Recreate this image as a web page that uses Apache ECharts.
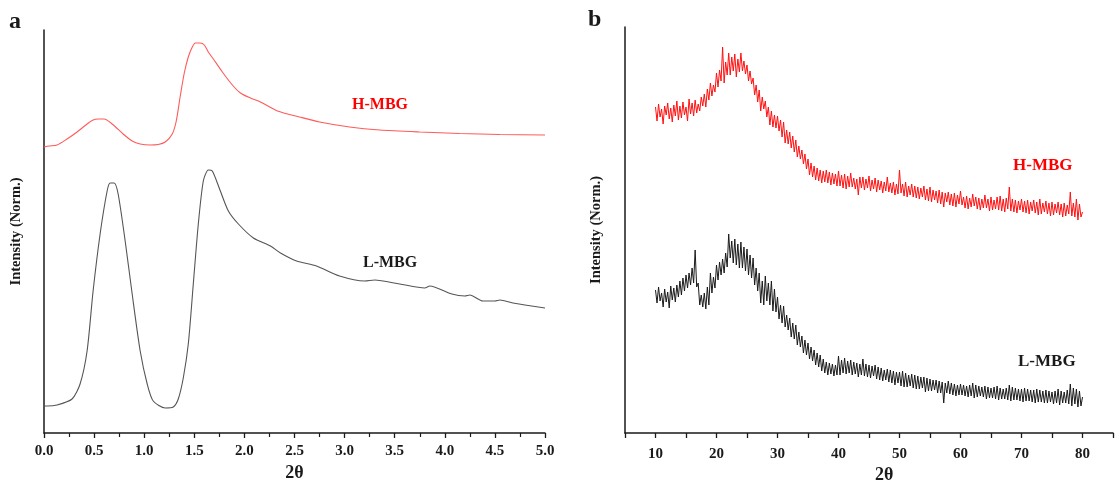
<!DOCTYPE html>
<html><head><meta charset="utf-8">
<script src="https://cdn.jsdelivr.net/npm/echarts@6/dist/echarts.min.js"></script>
<style>html,body{margin:0;padding:0;background:#fff}#c{width:1116px;height:491px}</style>
</head><body><div id="c"></div>
<script>
// Panel a (low angle): 2θ and normalized intensity (arbitrary units)
const aH_x = [0.00,0.05,0.13,0.23,0.33,0.43,0.49,0.54,0.60,0.68,0.79,0.88,0.96,1.06,1.14,1.21,1.28,1.32,1.36,1.40,1.44,1.48,1.51,1.56,1.60,1.64,1.69,1.78,1.88,1.96,2.06,2.16,2.33,2.55,2.75,3.05,3.35,3.75,4.15,4.55,5.00];
const aH_y = [286,287,288,294,301,309,313,314,314,309,299,292,289,288,288.5,291,299,312,337,360,376,386,390,390,388,381,374,361,348,340,335,331,322,316,311,306,303,301,299.5,298.5,298];
const aL_x = [0.00,0.03,0.13,0.28,0.36,0.43,0.49,0.56,0.63,0.66,0.70,0.74,0.81,0.88,0.96,1.03,1.09,1.21,1.29,1.34,1.39,1.44,1.49,1.54,1.59,1.64,1.68,1.76,1.84,1.94,2.09,2.26,2.36,2.52,2.72,2.95,3.20,3.30,3.55,3.80,3.85,4.07,4.20,4.25,4.38,4.50,4.55,4.68,5.00];
const aL_y = [27,27,28,34,49,82,142,199,242,250,250,239,192,139,82,49,32,25,26,34,55,89,149,209,252,263,262,242,222,209,195,187,180,172,167,157,152,153,149,145,147,139,137,138,132,132,133,130,125];
const aTicks = [0,0.5,1,1.5,2,2.5,3,3.5,4,4.5,5];

// Panel b (wide angle): 2θ from 10 to 80 in steps of 0.25
const bX = [];
for (let i = 0; i <= 280; i++) bX.push(10 + i * 0.25);
const bH = [
326,312,329,316,324,309,327,318, 330,314,325,311,328,317,332,313,
327,315,331,318,326,312,334,319, 330,317,333,320,329,322,336,327,
339,326,344,333,350,337,348,341, 360,346,363,352,386,350,371,358,
380,358,376,362,379,356,374,361, 380,362,372,359,368,352,362,349,
355,338,348,331,343,322,336,324, 332,316,326,308,322,306,318,305,
317,302,313,296,311,290,303,289, 301,285,297,281,293,276,287,274,
283,269,279,264,274,258,270,256, 267,253,265,252,263,250,262,251,
263,250,261,248,260,249,259,247, 262,247,258,245,259,244,257,246,
260,246,255,244,254,238,256,245, 256,243,254,245,257,242,253,244,
255,241,253,243,252,240,251,242, 256,241,250,240,251,238,249,239,
263,240,249,237,251,236,247,238, 249,236,247,235,246,234,245,236,
247,233,244,232,246,231,243,233, 242,230,243,229,241,226,240,231,
241,228,239,227,240,226,238,229, 242,228,236,225,237,224,235,226,
239,227,236,224,235,223,234,225, 238,225,234,222,236,223,233,224,
236,223,237,222,234,221,235,224, 246,222,234,221,233,220,232,223,
234,221,232,220,233,219,231,222, 233,220,231,218,234,219,230,221,
232,219,230,217,231,218,229,220, 231,218,229,216,230,217,228,219,
241,217,230,216,234,213,229,216, 221];
const bL = [
143,130,146,132,140,126,144,131, 141,125,147,133,145,131,148,136,
152,138,155,142,158,145,160,148, 165,150,183,146,150,128,138,126,
140,124,146,128,160,140,156,145, 168,153,171,158,174,160,180,166,
199,175,192,170,194,168,189,165, 191,165,186,162,184,158,178,155,
175,148,165,142,160,130,152,128, 157,132,150,128,152,122,144,121,
136,114,128,110,127,106,118,103, 115,96,110,94,108,88,101,86,
97,80,93,78,90,74,86,72, 83,68,80,66,78,62,74,60,
71,58,70,59,69,57,68,58, 77,58,73,60,75,59,72,60,
73,58,71,59,70,56,69,58, 74,57,69,56,68,55,67,57,
68,54,66,53,65,52,63,53, 64,51,63,50,62,48,61,50,
61,47,62,46,60,46,58,47, 59,45,58,44,57,44,56,45,
56,41,55,42,54,42,53,43, 53,40,52,40,51,30,50,40,
52,39,50,38,49,37,48,38, 49,38,48,37,47,36,48,37,
50,35,48,36,47,37,46,36, 47,34,46,35,45,35,46,34,
47,33,45,34,44,34,45,33, 48,32,46,33,45,33,44,32,
44,31,45,32,44,32,43,31, 43,30,44,31,43,31,42,30,
43,30,42,31,41,29,42,30, 44,28,42,30,41,30,43,29,
49,27,45,29,44,26,42,27, 36];
const bTicks = [10,20,30,40,50,60,70,80];

const zip = (xs, ys) => xs.map((x, i) => [x, ys[i]]);
const FONT = '"Liberation Serif","Times New Roman",serif';
const INK = '#1a1a1a';
const axisLine = {lineStyle:{color:INK,width:1.5}};

const chart = echarts.init(document.getElementById('c'), null, {renderer:'canvas'});
chart.setOption({
  animation:false,
  backgroundColor:'#fff',
  grid:[
    {left:44, top:30, width:501, height:403},
    {left:625, top:27, width:500.6, height:406}
  ],
  xAxis:[
    {gridIndex:0, type:'value', min:0, max:5, interval:0.5,
     axisLine:axisLine, splitLine:{show:false},
     axisTick:{show:true, length:5, lineStyle:{color:INK,width:1.3}},
     minorTick:{show:true, splitNumber:2, length:4, lineStyle:{color:INK,width:1.2}},
     axisLabel:{fontFamily:FONT, fontWeight:'bold', fontSize:15, color:INK, margin:11,
       formatter:v => aTicks.includes(+v.toFixed(2)) ? v.toFixed(1) : ''},
     name:'2θ', nameLocation:'middle', nameGap:22,
     nameTextStyle:{fontFamily:FONT, fontWeight:'bold', fontSize:18, color:INK}},
    {gridIndex:1, type:'value', min:5, max:85, interval:5,
     axisLine:axisLine, splitLine:{show:false},
     axisTick:{show:true, length:5, lineStyle:{color:INK,width:1.3}},
     axisLabel:{fontFamily:FONT, fontWeight:'bold', fontSize:15, color:INK, margin:14,
       formatter:v => bTicks.includes(v) ? String(v) : ''}}
  ],
  yAxis:[
    {gridIndex:0, type:'value', min:0, max:403, axisLine:axisLine, axisTick:{show:false},
     axisLabel:{show:false}, splitLine:{show:false},
     name:'Intensity (Norm.)', nameLocation:'middle', nameGap:20, nameRotate:90,
     nameTextStyle:{fontFamily:FONT, fontWeight:'bold', fontSize:14.5, color:INK}},
    {gridIndex:1, type:'value', min:0, max:406, axisLine:axisLine, axisTick:{show:false},
     axisLabel:{show:false}, splitLine:{show:false},
     name:'Intensity (Norm.)', nameLocation:'middle', nameGap:21, nameRotate:90,
     nameTextStyle:{fontFamily:FONT, fontWeight:'bold', fontSize:14.5, color:INK}}
  ],
  series:[
    {type:'line', xAxisIndex:0, yAxisIndex:0, data:zip(aH_x,aH_y), showSymbol:false, smooth:0.25,
     lineStyle:{color:'#ff5a5a', width:1.1}},
    {type:'line', xAxisIndex:0, yAxisIndex:0, data:zip(aL_x,aL_y), showSymbol:false, smooth:0.25,
     lineStyle:{color:'#555555', width:1.1}},
    {type:'line', xAxisIndex:1, yAxisIndex:1, data:zip(bX,bH), showSymbol:false,
     lineStyle:{color:'#ff1010', width:1}},
    {type:'line', xAxisIndex:1, yAxisIndex:1, data:zip(bX,bL), showSymbol:false,
     lineStyle:{color:INK, width:1}}
  ],
  graphic:[
    {type:'text', left:9, top:10, style:{text:'a', font:'bold 24px '+FONT, fill:INK}},
    {type:'text', left:588, top:8, style:{text:'b', font:'bold 24px '+FONT, fill:INK}},
    {type:'text', left:352, top:97, style:{text:'H-MBG', font:'bold 16px '+FONT, fill:'#ff0000'}},
    {type:'text', left:363, top:255, style:{text:'L-MBG', font:'bold 16px '+FONT, fill:INK}},
    {type:'text', left:1013, top:157, style:{text:'H-MBG', font:'bold 17px '+FONT, fill:'#ff0000'}},
    {type:'text', left:1018, top:353, style:{text:'L-MBG', font:'bold 17px '+FONT, fill:INK}},
    {type:'text', left:875, top:466, style:{text:'2θ', font:'bold 18px '+FONT, fill:INK}}
  ]
});
</script></body></html>
